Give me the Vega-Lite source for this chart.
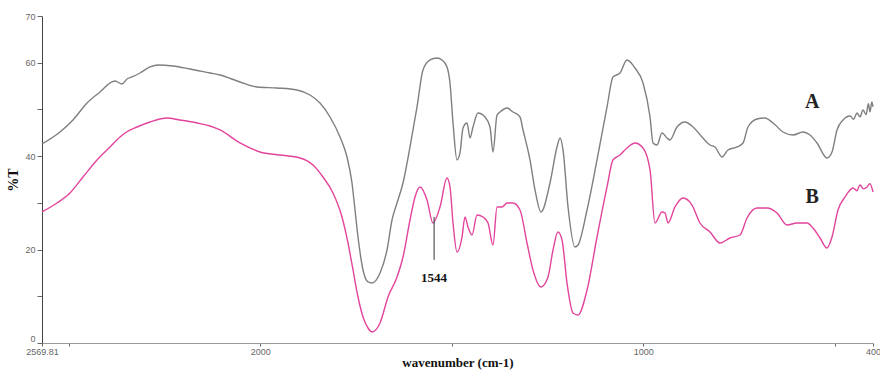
{
  "$schema": "https://vega.github.io/schema/vega-lite/v6.json",
  "width": 831,
  "height": 327,
  "autosize": {"type": "none"},
  "padding": {"left": 42, "top": 16, "right": 7, "bottom": 29},
  "background": "white",
  "config": {"view": {"stroke": null}},
  "datasets": {
    "spectra": [
      {"s":"A","w":2569.81,"t":42.60},{"s":"A","w":2522.8,"t":45.17},{"s":"A","w":2488.9,"t":47.74},{"s":"A","w":2452.3,"t":51.38},{"s":"A","w":2418.4,"t":53.74},{"s":"A","w":2387.0,"t":55.88},{"s":"A","w":2379.2,"t":56.09},{"s":"A","w":2360.9,"t":55.45},{"s":"A","w":2347.9,"t":56.52},{"s":"A","w":2334.8,"t":56.95},{"s":"A","w":2313.9,"t":57.80},{"s":"A","w":2287.8,"t":59.09},{"s":"A","w":2266.9,"t":59.52},{"s":"A","w":2227.7,"t":59.30},{"s":"A","w":2183.4,"t":58.66},{"s":"A","w":2131.1,"t":57.80},{"s":"A","w":2105.0,"t":57.38},{"s":"A","w":2052.8,"t":55.88},{"s":"A","w":2008.4,"t":54.81},{"s":"A","w":1956.2,"t":54.59},{"s":"A","w":1904.0,"t":54.16},{"s":"A","w":1870.0,"t":53.09},{"s":"A","w":1843.9,"t":51.38},{"s":"A","w":1817.8,"t":48.38},{"s":"A","w":1791.7,"t":44.10},{"s":"A","w":1773.4,"t":39.82},{"s":"A","w":1760.4,"t":34.25},{"s":"A","w":1752.5,"t":28.47},{"s":"A","w":1744.7,"t":22.69},{"s":"A","w":1731.6,"t":15.63},{"s":"A","w":1718.6,"t":13.06},{"s":"A","w":1708.1,"t":12.85},{"s":"A","w":1687.2,"t":14.99},{"s":"A","w":1669.0,"t":19.91},{"s":"A","w":1655.9,"t":26.33},{"s":"A","w":1642.8,"t":29.97},{"s":"A","w":1627.2,"t":34.25},{"s":"A","w":1608.9,"t":41.96},{"s":"A","w":1590.6,"t":50.53},{"s":"A","w":1575.0,"t":58.45},{"s":"A","w":1556.7,"t":60.59},{"s":"A","w":1538.4,"t":61.02},{"s":"A","w":1525.4,"t":60.59},{"s":"A","w":1512.3,"t":59.09},{"s":"A","w":1504.5,"t":55.66},{"s":"A","w":1496.6,"t":47.10},{"s":"A","w":1486.2,"t":39.18},{"s":"A","w":1478.4,"t":40.68},{"s":"A","w":1470.5,"t":46.03},{"s":"A","w":1460.1,"t":47.10},{"s":"A","w":1452.2,"t":43.89},{"s":"A","w":1444.4,"t":46.24},{"s":"A","w":1431.4,"t":49.24},{"s":"A","w":1413.1,"t":48.38},{"s":"A","w":1400.0,"t":46.24},{"s":"A","w":1392.2,"t":40.89},{"s":"A","w":1381.7,"t":48.81},{"s":"A","w":1373.9,"t":49.45},{"s":"A","w":1355.6,"t":50.31},{"s":"A","w":1340.0,"t":49.45},{"s":"A","w":1321.7,"t":48.38},{"s":"A","w":1313.8,"t":45.60},{"s":"A","w":1295.6,"t":39.18},{"s":"A","w":1282.5,"t":32.76},{"s":"A","w":1266.9,"t":28.05},{"s":"A","w":1243.4,"t":34.25},{"s":"A","w":1225.1,"t":41.96},{"s":"A","w":1217.2,"t":43.89},{"s":"A","w":1209.4,"t":41.32},{"s":"A","w":1196.3,"t":29.12},{"s":"A","w":1178.1,"t":20.55},{"s":"A","w":1170.2,"t":20.98},{"s":"A","w":1146.7,"t":28.47},{"s":"A","w":1120.6,"t":39.18},{"s":"A","w":1094.5,"t":50.53},{"s":"A","w":1078.9,"t":56.95},{"s":"A","w":1060.6,"t":57.80},{"s":"A","w":1042.3,"t":60.59},{"s":"A","w":1021.4,"t":58.87},{"s":"A","w":1000.5,"t":55.66},{"s":"A","w":982.2,"t":48.38},{"s":"A","w":974.4,"t":42.82},{"s":"A","w":964.0,"t":42.39},{"s":"A","w":950.9,"t":44.96},{"s":"A","w":937.9,"t":43.89},{"s":"A","w":930.0,"t":43.46},{"s":"A","w":911.8,"t":46.24},{"s":"A","w":890.9,"t":47.31},{"s":"A","w":870.0,"t":46.24},{"s":"A","w":846.5,"t":44.10},{"s":"A","w":825.6,"t":42.39},{"s":"A","w":812.5,"t":41.96},{"s":"A","w":794.3,"t":39.82},{"s":"A","w":778.6,"t":41.32},{"s":"A","w":755.1,"t":41.96},{"s":"A","w":739.4,"t":42.82},{"s":"A","w":726.4,"t":46.24},{"s":"A","w":702.9,"t":47.96},{"s":"A","w":682.0,"t":48.17},{"s":"A","w":661.1,"t":47.10},{"s":"A","w":635.0,"t":45.17},{"s":"A","w":608.9,"t":44.53},{"s":"A","w":582.8,"t":45.17},{"s":"A","w":564.5,"t":44.53},{"s":"A","w":546.2,"t":42.82},{"s":"A","w":520.1,"t":39.61},{"s":"A","w":507.0,"t":40.89},{"s":"A","w":494.0,"t":45.60},{"s":"A","w":478.3,"t":47.74},{"s":"A","w":460.0,"t":48.60},{"s":"A","w":450.5,"t":47.9},{"s":"A","w":441.8,"t":49.24},{"s":"A","w":434.0,"t":48.4},{"s":"A","w":426.1,"t":49.88},{"s":"A","w":418.0,"t":48.9},{"s":"A","w":412.0,"t":51.2},{"s":"A","w":407.8,"t":49.5},{"s":"A","w":403.0,"t":51.6},{"s":"A","w":400.0,"t":50.53},
      {"s":"B","w":2569.81,"t":28.05},{"s":"B","w":2530.6,"t":29.97},{"s":"B","w":2496.7,"t":32.11},{"s":"B","w":2462.7,"t":35.54},{"s":"B","w":2426.2,"t":39.18},{"s":"B","w":2392.2,"t":41.96},{"s":"B","w":2366.1,"t":44.10},{"s":"B","w":2353.1,"t":44.96},{"s":"B","w":2321.7,"t":46.24},{"s":"B","w":2287.8,"t":47.31},{"s":"B","w":2243.4,"t":48.17},{"s":"B","w":2209.5,"t":47.74},{"s":"B","w":2165.1,"t":47.10},{"s":"B","w":2131.1,"t":46.46},{"s":"B","w":2105.0,"t":45.60},{"s":"B","w":2052.8,"t":42.82},{"s":"B","w":2000.6,"t":40.89},{"s":"B","w":1948.4,"t":40.25},{"s":"B","w":1896.1,"t":39.61},{"s":"B","w":1862.2,"t":38.11},{"s":"B","w":1836.1,"t":35.54},{"s":"B","w":1810.0,"t":32.11},{"s":"B","w":1786.5,"t":26.98},{"s":"B","w":1770.8,"t":21.41},{"s":"B","w":1757.7,"t":15.63},{"s":"B","w":1744.7,"t":9.85},{"s":"B","w":1731.6,"t":5.57},{"s":"B","w":1718.6,"t":3.21},{"s":"B","w":1708.1,"t":2.35},{"s":"B","w":1687.2,"t":4.28},{"s":"B","w":1666.4,"t":9.85},{"s":"B","w":1642.8,"t":14.13},{"s":"B","w":1627.2,"t":18.41},{"s":"B","w":1608.9,"t":26.33},{"s":"B","w":1595.9,"t":31.26},{"s":"B","w":1582.8,"t":33.40},{"s":"B","w":1564.5,"t":30.61},{"s":"B","w":1548.9,"t":25.69},{"s":"B","w":1530.6,"t":29.12},{"s":"B","w":1512.3,"t":35.32},{"s":"B","w":1504.5,"t":33.40},{"s":"B","w":1496.6,"t":25.69},{"s":"B","w":1486.2,"t":19.48},{"s":"B","w":1473.1,"t":22.69},{"s":"B","w":1465.3,"t":26.98},{"s":"B","w":1457.5,"t":24.83},{"s":"B","w":1447.0,"t":23.12},{"s":"B","w":1434.0,"t":27.40},{"s":"B","w":1418.3,"t":26.98},{"s":"B","w":1405.2,"t":25.69},{"s":"B","w":1392.2,"t":20.98},{"s":"B","w":1381.7,"t":29.12},{"s":"B","w":1368.7,"t":29.12},{"s":"B","w":1355.6,"t":29.97},{"s":"B","w":1340.0,"t":29.97},{"s":"B","w":1321.7,"t":28.47},{"s":"B","w":1303.4,"t":21.41},{"s":"B","w":1287.8,"t":15.63},{"s":"B","w":1266.9,"t":11.99},{"s":"B","w":1248.6,"t":14.13},{"s":"B","w":1235.5,"t":19.91},{"s":"B","w":1222.5,"t":23.76},{"s":"B","w":1212.0,"t":22.05},{"s":"B","w":1199.0,"t":12.85},{"s":"B","w":1183.3,"t":6.42},{"s":"B","w":1170.2,"t":5.99},{"s":"B","w":1146.7,"t":11.35},{"s":"B","w":1120.6,"t":22.69},{"s":"B","w":1094.5,"t":33.40},{"s":"B","w":1078.9,"t":39.18},{"s":"B","w":1060.6,"t":40.25},{"s":"B","w":1042.3,"t":41.75},{"s":"B","w":1021.4,"t":42.82},{"s":"B","w":1000.5,"t":41.75},{"s":"B","w":982.2,"t":37.04},{"s":"B","w":969.2,"t":25.69},{"s":"B","w":950.9,"t":28.05},{"s":"B","w":943.1,"t":27.83},{"s":"B","w":935.2,"t":25.69},{"s":"B","w":917.0,"t":29.12},{"s":"B","w":896.1,"t":31.04},{"s":"B","w":872.6,"t":29.54},{"s":"B","w":851.7,"t":25.69},{"s":"B","w":825.6,"t":23.76},{"s":"B","w":799.5,"t":21.41},{"s":"B","w":773.4,"t":22.48},{"s":"B","w":747.3,"t":23.12},{"s":"B","w":729.0,"t":26.76},{"s":"B","w":702.9,"t":28.90},{"s":"B","w":676.8,"t":28.90},{"s":"B","w":650.6,"t":27.83},{"s":"B","w":624.5,"t":25.26},{"s":"B","w":598.4,"t":25.69},{"s":"B","w":572.3,"t":25.69},{"s":"B","w":556.6,"t":24.62},{"s":"B","w":538.4,"t":22.48},{"s":"B","w":520.1,"t":20.34},{"s":"B","w":507.0,"t":22.69},{"s":"B","w":491.4,"t":28.47},{"s":"B","w":473.1,"t":31.26},{"s":"B","w":452.2,"t":33.18},{"s":"B","w":442.0,"t":32.6},{"s":"B","w":433.9,"t":33.83},{"s":"B","w":425.0,"t":33.0},{"s":"B","w":415.6,"t":33.40},{"s":"B","w":408.0,"t":34.1},{"s":"B","w":400.0,"t":32.33}
    ],
    "labels": [
      {"w": 559, "t": 51.6, "txt": "A"},
      {"w": 559, "t": 31.3, "txt": "B"}
    ],
    "peak": [
      {"w": 1546, "t1": 17.8, "t2": 27.0, "tt": 13.9, "txt": "1544"}
    ]
  },
  "layer": [
    {
      "data": {"name": "spectra"},
      "mark": {"type": "line", "strokeWidth": 1.4, "interpolate": "monotone"},
      "encoding": {
        "x": {
          "field": "w", "type": "quantitative",
          "scale": {"domain": [2569.81, 400], "nice": false, "zero": false},
          "axis": {
            "values": [2569.81, 2500, 2000, 1500, 1000, 500, 400],
            "labelExpr": "indexof([2500,1500,500], datum.value) >= 0 ? '' : toString(datum.value)",
            "title": "wavenumber (cm-1)",
            "titleFont": "Liberation Serif", "titleFontSize": 13, "titleFontWeight": "bold", "titleColor": "#111",
            "titlePadding": 0,
            "labelFont": "Liberation Sans", "labelFontSize": 9, "labelColor": "#666", "labelPadding": 1,
            "tickSize": 3, "tickColor": "#666", "domainColor": "#999", "grid": false, "labelFlush": false, "labelOverlap": false
          }
        },
        "y": {
          "field": "t", "type": "quantitative",
          "scale": {"domain": [0, 70], "nice": false},
          "axis": {
            "values": [0, 10, 20, 30, 40, 50, 60, 70],
            "labelExpr": "indexof([10,30,50], datum.value) >= 0 ? '' : toString(datum.value)",
            "labelBaseline": {"condition": {"test": "datum.value == 0", "value": "bottom"}, "value": "middle"},
            "title": "%T",
            "titleFont": "Liberation Serif", "titleFontSize": 14, "titleFontWeight": "bold", "titleColor": "#111",
            "titlePadding": 4,
            "labelFont": "Liberation Sans", "labelFontSize": 9, "labelColor": "#666", "labelPadding": 2,
            "tickSize": 5, "tickColor": "#666", "domainColor": "#444", "grid": false
          }
        },
        "color": {
          "field": "s", "type": "nominal",
          "scale": {"domain": ["A", "B"], "range": ["#7f7f7f", "#e2449c"]},
          "legend": null
        }
      }
    },
    {
      "mark": {"type": "rule", "color": "#333", "strokeWidth": 1},
      "encoding": {"x": {"datum": 400}}
    },
    {
      "data": {"name": "labels"},
      "mark": {"type": "text", "font": "Liberation Serif", "fontSize": 20, "fontWeight": "bold", "color": "#222"},
      "encoding": {
        "x": {"field": "w", "type": "quantitative"},
        "y": {"field": "t", "type": "quantitative"},
        "text": {"field": "txt"}
      }
    },
    {
      "data": {"name": "peak"},
      "mark": {"type": "rule", "color": "#333", "strokeWidth": 1},
      "encoding": {
        "x": {"field": "w", "type": "quantitative"},
        "y": {"field": "t1", "type": "quantitative"},
        "y2": {"field": "t2"}
      }
    },
    {
      "data": {"name": "peak"},
      "mark": {"type": "text", "font": "Liberation Serif", "fontSize": 13, "fontWeight": "bold", "color": "#111"},
      "encoding": {
        "x": {"field": "w", "type": "quantitative"},
        "y": {"field": "tt", "type": "quantitative"},
        "text": {"field": "txt"}
      }
    }
  ]
}
